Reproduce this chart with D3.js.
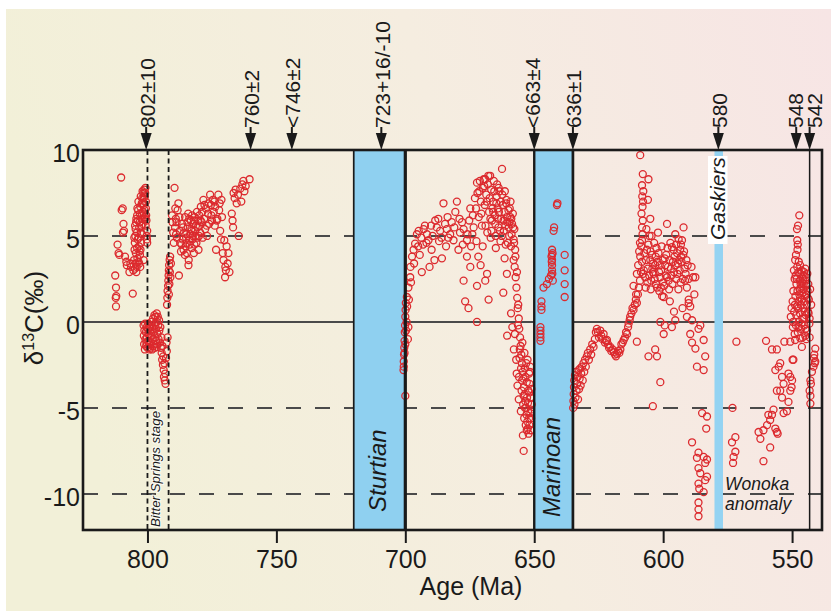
<!DOCTYPE html>
<html><head><meta charset="utf-8">
<script src="https://cdn.jsdelivr.net/npm/d3@7"></script>
<style>html,body{margin:0;padding:0;background:#fff;} svg{display:block;}</style>
</head><body><svg id="c" width="831" height="611"></svg>
<script>
// ---- data (age in Ma, d13C in permil) ----
const ageTicks = [800, 750, 700, 650, 600, 550];
const d13CTicks = [10, 5, 0, -5, -10];
const dateLabels = ["802±10", "760±2", "<746±2", "723+16/-10", "<663±4", "636±1", "580", "548", "542"];
const dateArrowAges = [800.5, 760, 744, 709.3, 650, 635, 578.6, 548.4, 543.2];
const glaciationNames = ["Sturtian", "Marinoan", "Gaskiers"];
const glaciationStart = [720, 650, 580.1];
const glaciationEnd = [700, 635, 576.8];
const bitterSpringsBounds = [800, 791.8];
const precambrianEnd = 543.2;

const preBitterSprings = [[812.5,2.7],[812.2,2.0],[812.1,1.5],[812.3,1.4],[812.2,0.9],[811.6,4.5],[811.2,4.0],[810.9,3.9],[810.2,8.4],[810.0,6.5],[809.6,6.6],[809.3,5.7],[809.1,5.3],[809.5,5.2],[808.7,3.8],[808.2,3.5],[808.0,3.3],[807.0,2.9],[806.6,3.4],[805.7,1.65],[806.4,3.2],[805.5,3.0],[805.2,3.6],[805.0,4.2],[804.9,4.6],[804.7,5.0],[804.6,5.4],[804.4,5.8],[804.5,4.0],[804.2,3.2],[804.0,6.2],[803.8,4.8],[803.6,6.5],[803.5,3.5],[803.3,4.4],[803.2,5.5],[803.0,6.3],[802.9,3.9],[802.8,6.7],[802.6,5.2],[802.5,4.6],[802.3,6.0],[802.2,6.9],[802.0,7.2],[801.9,5.7],[801.8,6.4],[801.6,7.5],[801.5,3.6],[801.4,6.8],[801.2,7.7],[801.0,7.3],[800.9,6.1],[800.8,7.8],[800.6,6.6],[800.5,6.2],[800.4,5.9],[800.3,5.0],[800.2,4.8],[800.1,4.6],[800.1,5.3],[800.6,7.0],[801.0,6.0],[801.3,6.3],[802.1,5.1],[803.4,4.9],[804.1,5.2],[804.8,3.1],[803.9,3.7],[802.7,4.2],[804.3,2.9],[803.7,5.9],[802.4,5.6],[801.7,6.9],[801.1,6.5],[800.7,5.6],[804.6,3.4],[805.1,4.9],[803.1,4.1],[804.8,5.6],[804.3,6.0],[803.9,6.6],[803.5,7.0],[803.0,5.8],[802.6,7.3],[802.2,6.2],[801.9,7.6],[801.4,7.2],[800.9,7.5],[804.0,4.3],[803.2,3.4],[802.8,3.2]];

const bitterSprings = [[801.5,-0.2],[801.4,-0.8],[801.3,-1.3],[801.2,-0.5],[801.0,-1.6],[800.9,-0.1],[800.8,-1.0],[800.6,-0.6],[800.5,-1.4],[800.3,-0.3],[800.2,-0.9],[800.0,-1.5],[799.9,-0.4],[799.7,-1.1],[799.6,-0.7],[799.4,-1.3],[799.3,-0.2],[799.1,-0.9],[799.0,-1.5],[798.8,-0.5],[798.7,-1.2],[798.5,0.0],[798.4,-0.8],[798.2,-1.6],[798.1,-0.3],[797.9,-1.0],[797.8,0.2],[797.6,-0.6],[797.5,-1.3],[797.3,0.4],[797.2,-0.1],[797.0,-0.9],[796.9,0.3],[796.7,-0.4],[796.6,-1.1],[796.4,0.5],[796.4,-1.45],[796.3,0.0],[796.1,-0.7],[796.0,0.3],[795.8,-0.2],[795.7,-1.0],[795.5,0.1],[795.4,-0.5],[795.2,-1.2],[795.0,-0.3],[794.8,-1.5],[794.6,-0.9],[794.5,-1.8],[794.3,-2.2],[794.2,-1.4],[794.0,-2.5],[793.9,-2.0],[793.7,-2.8],[793.6,-3.2],[793.4,-2.4],[793.3,-3.4],[793.1,-3.0],[793.0,-3.6],[792.8,-2.1],[792.6,-1.2],[792.5,-1.7],[792.2,-0.9],[799.8,-0.1],[798.9,-0.3],[798.0,-1.4],[797.1,-1.5],[796.2,-1.3],[800.4,-1.2],[799.2,-1.6]];

const postBitterSprings = [[792.4,1.0],[792.3,1.4],[792.2,1.8],[792.0,2.1],[791.9,2.4],[791.8,2.7],[791.7,3.0],[791.6,3.3],[791.5,2.2],[791.4,3.6],[791.3,2.9],[791.2,3.8],[791.7,1.6],[791.1,2.6],[790.9,3.4],[790.5,6.2],[790.3,5.8],[789.5,7.8],[789.8,4.6],[789.3,5.5],[789.0,6.0],[788.9,5.1],[788.6,4.9],[788.0,6.9],[788.3,6.5],[787.8,2.7],[787.3,4.6],[787.5,5.3],[787.0,4.1],[786.6,5.7],[786.0,4.2],[786.3,4.8],[785.5,3.9],[785.2,4.4],[784.7,4.0],[784.9,5.1],[784.4,5.5],[784.1,3.3],[784.0,3.6],[783.6,4.5],[783.2,5.9],[782.9,5.3],[782.5,4.8],[782.2,5.7],[782.0,4.0],[781.7,6.1],[781.4,5.0],[781.0,4.6],[780.8,6.4],[780.5,5.5],[780.2,4.2],[779.9,6.2],[779.6,5.2],[779.3,6.7],[779.0,5.8],[778.6,4.9],[778.3,7.1],[778.0,6.0],[777.6,5.4],[777.3,6.6],[776.9,5.0],[776.5,6.3],[776.1,5.7],[775.7,7.4],[775.4,6.8],[775.0,5.9],[774.7,7.1],[774.3,6.4],[773.9,5.6],[773.7,6.7],[773.4,4.2],[772.9,6.0],[772.5,7.4],[772.2,6.5],[771.8,5.3],[771.5,4.8],[771.1,6.1],[770.8,4.0],[770.5,3.6],[770.2,4.75],[769.9,2.6],[769.8,3.2],[769.6,3.0],[769.3,4.4],[768.9,3.4],[768.6,4.0],[768.2,2.9],[767.3,6.3],[767.0,5.9],[766.8,5.5],[766.6,7.5],[766.2,7.2],[765.8,7.7],[765.4,6.9],[764.9,7.4],[764.6,5.0],[764.0,7.75],[763.6,7.0],[763.2,8.0],[762.8,8.2],[762.4,7.6],[761.9,7.9],[760.4,8.3],[784.5,5.8],[783.8,6.0],[783.0,5.4],[782.7,6.2],[781.9,5.9],[781.2,5.6],[780.3,5.9],[779.8,5.6],[785.8,5.2],[786.8,4.5],[785.0,4.9],[783.4,5.1],[781.5,5.3],[780.0,5.0],[784.2,6.3],[782.4,5.0],[786.2,5.5],[785.4,6.1],[784.8,4.6],[783.9,4.8],[782.8,4.3],[781.8,4.5],[780.6,4.9],[779.4,5.9],[778.8,6.4],[777.9,6.8],[777.0,5.6],[776.3,6.9],[775.2,6.2],[774.0,7.0],[773.1,5.9],[772.0,6.9],[771.3,7.1],[788.7,5.8],[787.6,6.1],[789.2,6.6],[790.0,5.2]];

const cryogenianInterlude = [[700.7,-2.8],[700.6,-2.3],[700.5,-1.9],[700.4,-1.5],[700.3,-1.1],[700.2,-0.6],[700.1,-0.2],[700.0,0.3],[699.9,0.7],[699.8,1.1],[700.6,-2.6],[700.3,-1.8],[700.0,-1.3],[699.7,-0.5],[699.5,0.0],[699.3,0.9],[700.0,-4.3],[699.0,-1.0],[698.8,-0.3],[698.6,1.3],[699.4,1.45],[698.8,2.0],[698.1,2.6],[698.0,3.2],[697.4,3.8],[696.8,4.2],[696.2,4.55],[695.5,5.1],[695.0,4.4],[694.4,3.9],[693.6,2.9],[693.8,4.9],[692.9,5.4],[692.4,5.6],[691.8,4.6],[691.0,4.75],[690.6,3.2],[690.0,5.6],[689.4,5.0],[688.7,3.6],[688.4,5.9],[687.8,5.5],[687.2,6.0],[686.5,5.3],[686.0,4.9],[685.8,3.7],[685.2,6.9],[684.6,5.7],[683.9,5.4],[683.3,4.9],[682.6,5.1],[682.0,5.8],[681.3,4.75],[680.6,6.4],[680.0,7.0],[679.4,4.2],[678.8,5.2],[678.0,5.8],[677.7,4.5],[677.4,5.4],[677.4,2.4],[676.8,1.2],[676.1,4.75],[676.1,3.8],[675.5,0.8],[675.2,5.9],[674.8,3.2],[674.5,4.4],[674.0,5.1],[673.5,5.5],[673.0,7.2],[672.6,6.6],[672.4,4.7],[672.2,8.1],[672.2,2.1],[672.2,0.0],[672.0,7.5],[671.7,3.8],[671.5,6.1],[671.1,8.2],[670.8,3.3],[670.7,7.0],[670.3,5.6],[670.0,4.4],[669.9,7.8],[669.6,8.3],[669.2,6.8],[669.0,2.4],[669.0,8.3],[668.6,7.4],[668.3,2.8],[668.2,5.2],[667.8,8.5],[667.7,1.3],[667.5,6.4],[667.1,8.5],[666.9,4.9],[666.7,7.7],[666.4,5.9],[666.0,7.0],[665.7,8.2],[665.3,6.2],[665.0,5.0],[664.9,4.3],[664.6,7.3],[664.2,6.6],[663.9,5.5],[663.5,7.6],[663.1,4.7],[662.8,6.0],[662.5,8.9],[662.2,6.8],[662.0,1.7],[661.8,5.3],[661.5,6.4],[661.5,3.7],[661.1,4.5],[660.8,7.1],[660.6,2.8],[660.4,5.8],[660.0,6.5],[659.7,5.0],[659.3,6.1],[659.0,4.4],[658.6,5.7],[658.3,6.3],[658.0,4.8],[658.0,3.6],[657.7,5.4],[657.4,4.2],[670.5,6.3],[668.9,5.6],[667.3,7.2],[666.2,6.6],[665.5,7.6],[664.0,6.0],[663.0,7.0],[661.9,5.9],[660.9,6.9],[659.9,5.5],[659.5,6.6],[658.8,5.1],[671.3,7.6],[669.4,7.9],[668.0,8.0],[664.4,8.0],[663.7,6.4],[662.6,5.0],[661.2,5.6],[660.2,4.6],[659.2,7.0],[666.6,5.3],[665.1,5.7],[663.3,5.3],[673.8,6.2],[674.8,6.6],[675.9,5.1],[679.0,6.0],[683.6,6.1],[681.0,5.5],[684.2,4.4],[686.9,4.7],[689.8,4.2],[691.6,5.1],[693.1,4.5],[694.8,5.3],[696.6,3.4],[697.8,2.3],[668.4,7.0],[667.0,6.0],[665.9,6.4],[664.7,6.9],[663.8,7.8],[662.4,7.4],[661.4,7.6],[660.6,6.1],[659.6,5.8],[658.9,6.0],[658.2,5.5],[657.8,4.6],[657.3,3.8],[656.7,2.9],
[657.6,3.2],[657.2,2.6],[656.9,2.0],[656.6,1.4],[656.4,0.8],[656.0,0.2],[655.8,-0.4],[655.5,-0.9],[655.3,-1.4],[655.0,-1.9],[654.8,-2.4],[654.5,-2.9],[654.2,-3.3],[654.0,-3.8],[653.7,-4.2],[653.5,-4.6],[653.2,-5.0],[653.0,-5.4],[652.7,-5.8],[652.5,-6.2],[652.2,-6.5],[652.0,-3.0],[651.8,-3.6],[651.5,-4.4],[651.3,-5.1],[651.1,-3.9],[651.0,-4.8],[651.6,-2.6],[652.3,-4.0],[652.9,-3.5],[653.6,-2.7],[654.4,-6.6],[654.1,-7.5],[655.2,-5.2],[656.0,-4.5],[656.5,-3.7],[657.0,-2.2],[657.9,-1.6],[658.5,-0.3],[659.0,0.5],[660.5,-0.8],[657.5,-0.7],[656.2,1.0],[655.7,-2.1],[654.6,-1.2],[653.9,-5.6],[652.6,-2.2],[653.3,-6.0],[652.0,-5.6],[651.4,-6.3],[656.8,-3.0],[655.9,-3.2],[654.9,-4.0],[654.3,-4.8],[653.8,-1.8],[653.1,-2.4],[652.8,-4.4],[651.9,-4.1],[651.2,-5.6],[652.4,-5.2],[653.4,-3.2],[651.7,-2.9],[656.3,-0.2],[655.6,-1.6],[655.1,-2.7],[654.7,-3.4],[654.1,-4.3],[653.6,-5.0],[652.4,-4.7],[651.5,-5.3],[651.9,-6.0],[652.9,-6.3]];

const marinoanCap = [[647.6,-0.3],[647.6,-0.5],[647.6,-0.7],[647.6,-0.9],[647.6,-1.1],[647.2,1.2],[647.2,0.9],[647.2,0.7],[646.4,2.0],[645.1,2.2],[644.3,2.5],[643.5,2.7],[643.1,4.2],[643.1,3.9],[643.1,3.6],[643.1,3.3],[643.1,3.0],[643.0,2.8],[643.3,3.8],[642.9,4.0],[642.8,2.4],[643.2,3.5],[642.5,5.3],[642.3,5.5],[641.2,6.8],[641.0,6.9],[638.2,3.9],[638.2,3.0],[638.2,2.2],[638.2,1.45]];

const ediacaran = [[634.9,-5.0],[634.8,-4.6],[634.7,-4.2],[634.6,-3.8],[634.5,-3.4],[634.4,-4.8],[634.2,-3.1],[634.0,-4.4],[633.8,-2.9],[633.6,-4.0],[633.4,-3.6],[633.2,-3.2],[633.0,-4.5],[632.8,-2.8],[632.6,-3.9],[632.4,-3.3],[632.2,-2.7],[632.0,-3.7],[631.8,-3.0],[631.5,-2.6],[631.2,-3.4],[630.9,-2.4],[630.6,-2.9],[630.3,-2.2],[630.0,-2.6],[629.6,-2.0],[629.2,-1.8],[628.8,-2.2],[628.3,-1.6],[627.9,-1.9],[627.5,-1.3],[627.0,-1.45],[626.5,-1.0],[626.1,-0.6],[625.7,-0.4],[625.3,-0.6],[624.9,-0.9],[624.4,-0.5],[624.0,-0.8],[623.5,-1.0],[623.1,-0.7],[622.6,-1.2],[622.2,-1.1],[621.8,-1.05],[621.4,-1.3],[621.0,-1.5],[620.5,-1.45],[620.1,-1.7],[619.6,-1.6],[619.2,-1.75],[618.7,-1.9],[618.3,-2.0],[617.9,-1.85],[617.4,-1.7],[617.0,-1.8],[616.6,-1.6],[616.2,-1.3],[615.7,-1.2],[615.3,-1.05],[614.8,-0.9],[614.4,-0.6],[614.0,-0.7],[613.6,-0.3],[613.4,-0.1],[613.0,0.1],[612.8,0.3],[612.3,0.5],[611.9,0.8],[611.5,0.7],[611.0,1.0],[610.6,1.3],[610.2,1.1],[609.8,1.6],[609.4,2.0],[609.0,2.4],[608.6,2.9],[608.2,3.5],[608.9,3.8],[608.5,4.4],[608.2,4.75],[608.0,5.1],[608.2,5.5],[607.9,5.9],[608.4,6.3],[608.0,6.7],[607.8,7.0],[608.1,7.3],[607.7,7.6],[608.2,7.95],[607.9,8.6],[608.9,9.7],
[611.5,2.1],[610.5,1.6],[610.2,2.8],[609.7,3.3],[609.3,4.1],[609.0,4.6],[607.5,3.0],[607.0,2.6],[606.7,3.6],[606.3,4.2],[606.0,3.1],[605.7,8.3],[605.9,7.1],[605.7,4.5],[605.3,5.0],[605.0,6.0],[605.0,3.6],[604.6,2.4],[604.3,3.9],[604.0,2.9],[603.7,2.8],[603.5,4.6],[603.1,3.3],[602.8,2.2],[602.4,2.0],[602.2,3.5],[601.8,4.0],[601.5,1.8],[601.1,2.6],[600.8,3.0],[600.4,1.5],[600.0,2.3],[599.8,1.45],[599.4,3.7],[599.0,2.7],[598.5,5.7],[598.5,2.6],[598.1,3.2],[597.7,1.9],[597.2,4.6],[596.6,4.35],[596.2,3.5],[595.8,2.9],[595.3,5.1],[595.0,4.5],[594.6,4.0],[594.3,3.4],[594.0,4.8],[593.6,3.0],[593.4,4.2],[593.0,3.8],[592.7,4.75],[592.4,2.5],[592.1,5.5],[591.7,3.1],[591.3,2.8],[590.8,2.0],[590.5,3.3],[590.1,1.3],[589.5,0.9],[588.8,0.1],[588.4,2.6],[587.9,1.6],[587.5,2.6],[589.0,3.2],[606.8,2.0],[605.4,2.7],[604.8,1.9],[603.9,3.4],[602.6,4.3],[601.3,3.3],[600.6,4.4],[599.6,2.1],[598.8,3.9],[597.9,2.4],[597.0,3.1],[596.4,2.2],[595.6,3.8],[594.9,2.5],[594.1,1.9],[593.2,2.3],[592.9,3.5],[591.9,4.1],[591.0,3.6],[590.2,2.5],[607.3,4.0],[606.5,5.4],[604.5,5.0],[602.0,5.2],[600.2,3.6],[603.3,2.5],[602.9,3.8],[601.6,2.9],[600.9,2.0],[599.2,3.3],[598.3,4.3],[597.5,3.6],[596.8,2.7],[596.0,4.2],[595.2,3.3],[594.5,2.8],[593.8,3.6],[593.1,4.5],[592.2,3.9],[591.5,2.4],[606.1,2.3],[604.9,4.1],[604.2,3.1],[607.8,2.8],
[610.2,-1.15],[605.7,-2.0],[603.1,-1.6],[602.4,-2.0],[601.1,-3.5],[604.0,-4.9],[601.1,0.0],[599.8,-0.7],[599.4,-0.2],[595.3,0.1],[590.1,1.1],[590.8,0.3],[589.5,-0.7],[588.8,-1.2],[587.5,-1.55],[586.9,-2.6],[584.3,-2.8],[583.7,-2.0],[584.3,-1.05],[586.3,-0.4],[585.6,-0.2],[595.8,0.6],[597.4,1.2],[592.5,0.8],[596.6,-0.3],
[584.9,-5.3],[583.0,-5.5],[583.3,-6.2],[588.8,-7.0],[586.9,-7.9],[586.3,-7.6],[584.3,-7.85],[583.7,-8.2],[583.0,-8.0],[586.3,-8.5],[585.6,-8.8],[583.7,-9.2],[583.0,-9.0],[586.3,-9.4],[586.0,-9.7],[584.3,-9.9],[586.3,-10.5],[586.3,-10.9],[586.3,-11.3],
[571.6,-1.15],[573.1,-5.0],[572.0,-6.7],[573.3,-7.0],[572.0,-7.55],[572.7,-7.85],[572.9,-8.2],
[561.1,-8.1],[563.0,-6.4],[562.3,-6.8],[561.1,-6.3],[559.7,-6.0],[558.5,-5.7],[557.2,-5.1],[558.5,-7.3],[556.5,-6.2],[555.9,-6.4],[555.6,-6.5],[557.8,-5.4],[559.2,-5.4],[560.1,-1.1],[557.8,-1.6],[555.9,-1.6],[556.5,-2.8],[554.6,-2.4],[555.2,-2.6],[553.9,-3.2],[553.3,-3.6],[554.6,-4.0],[555.9,-4.0],[553.9,-4.4],[551.4,-4.65],[550.7,-4.0],[550.0,-3.4],[550.2,-3.8],[551.4,-3.0],[550.7,-3.2],[549.8,-2.2],[549.5,-2.2],[553.3,-5.3],[552.0,-5.2],[553.0,-1.15],[550.7,-1.15],[548.8,-1.05],[546.8,-0.95],[546.2,-1.45],[544.9,-0.8],
[547.2,6.2],[547.7,5.6],[548.1,5.4],[548.0,4.75],[547.8,4.5],[547.9,4.2],[548.8,3.6],[548.5,3.9],[544.9,3.1],[545.5,2.7],[549.0,2.5],[548.3,2.2],[547.6,2.9],[547.0,2.4],[546.5,2.0],[546.0,1.7],[545.5,2.2],[545.0,1.5],[544.5,2.1],[544.0,1.8],[543.5,1.3],[543.0,1.9],[542.6,1.0],[549.5,1.8],[549.8,1.2],[550.2,0.8],[550.5,0.3],[549.2,0.6],[548.7,1.5],[548.2,0.9],[547.5,1.2],[547.0,0.5],[546.6,1.0],[546.0,0.2],[545.7,0.8],[545.2,-0.2],[544.7,0.4],[544.2,-0.5],[543.8,0.6],[543.3,-0.1],[549.7,-0.3],[549.0,-0.7],[548.5,-0.2],[547.8,-0.6],[547.3,0.0],[546.5,-0.4],[545.9,-0.9],[544.5,-1.0],[548.0,3.2],[547.4,3.5],[546.8,2.8],[546.3,3.0],[545.8,2.5],[547.9,1.8],[546.9,1.4],[545.4,1.2],[544.3,1.0],[549.3,3.0],[548.6,2.7],[546.1,2.3],[544.6,2.6],[543.7,2.2],[547.1,1.9],[545.1,0.6],[548.9,1.0],[548.4,0.4],[547.6,0.8],[547.2,1.6],[546.7,2.2],[546.2,1.3],[545.6,1.9],[545.0,2.4],[544.4,1.6],[543.9,1.4],[546.9,3.3],[545.3,2.9],[544.1,2.8],[548.2,2.5],[549.6,0.0],[547.5,-0.3],[546.4,-0.1],[545.3,0.2],[544.8,-0.4],
[543.6,0.5],[543.2,0.2],[543.2,-0.9],[541.0,-1.55],[541.4,-1.9],[541.0,-2.3],[541.7,-2.6],[542.3,-2.9],[542.9,-3.4],[542.7,-3.6],[543.2,-4.0],[542.9,-4.3],[542.9,-4.75],[541.5,-2.1],[541.2,-2.4]];

const allPoints = [].concat(preBitterSprings, bitterSprings, postBitterSprings, cryogenianInterlude, marinoanCap, ediacaran);

// ---- drawing ----
const W = 831, H = 611;
const FONT = "'Liberation Sans', Arial, Helvetica, sans-serif";
const INK = "#1a1a1a";
const svg = d3.select("#c");
const defs = svg.append("defs");
const grad = defs.append("linearGradient").attr("id", "bg")
  .attr("x1", "0").attr("y1", "0.2").attr("x2", "1").attr("y2", "0");
grad.append("stop").attr("offset", "0").attr("stop-color", "#f2f0d8");
grad.append("stop").attr("offset", "0.5").attr("stop-color", "#f5ede0");
grad.append("stop").attr("offset", "1").attr("stop-color", "#f7e5e5");
svg.append("rect").attr("x", 6).attr("y", 9).attr("width", W - 6).attr("height", H - 9).attr("fill", "url(#bg)");

const x = d3.scaleLinear().domain([825, 538.4]).range([83, 822]);
const y = d3.scaleLinear().domain([-12.1, 10]).range([530, 150]);
const [x0, x1] = x.range();
const [yB, yT] = y.range();

// gridlines
svg.append("g").selectAll("line").data(d13CTicks.filter(d => d !== 10)).join("line")
  .attr("x1", x0).attr("x2", x1).attr("y1", d => y(d)).attr("y2", d => y(d))
  .attr("stroke", "#4a4a4a").attr("stroke-width", 2)
  .attr("stroke-dasharray", d => d === 0 ? null : "15,14");

// glaciation bands
const gl = svg.append("g");
glaciationNames.forEach((n, i) => {
  const xa = x(glaciationStart[i]), xb = x(glaciationEnd[i]);
  gl.append("rect").attr("x", xa).attr("y", yT).attr("width", xb - xa).attr("height", yB - yT)
    .attr("fill", n === "Gaskiers" ? "#94d3f2" : "#8fd0f0");
});

// data points
svg.append("g").selectAll("circle").data(allPoints).join("circle")
  .attr("cx", d => x(d[0])).attr("cy", d => y(d[1])).attr("r", 3.5)
  .attr("fill", "none").attr("stroke", "#dc2a2e").attr("stroke-width", 1.3);

// band borders
const borderW = {Sturtian: [1.7, 3.2], Marinoan: [2.4, 2.7]};
glaciationNames.forEach((n, i) => {
  if (!borderW[n]) return;
  [glaciationStart[i], glaciationEnd[i]].forEach((a, k) => {
    svg.append("line").attr("x1", x(a)).attr("x2", x(a)).attr("y1", yT).attr("y2", yB)
      .attr("stroke", INK).attr("stroke-width", borderW[n][k]);
  });
});

// Bitter Springs dashed lines
bitterSpringsBounds.forEach(a => {
  svg.append("line").attr("x1", x(a)).attr("x2", x(a)).attr("y1", yT).attr("y2", yB)
    .attr("stroke", INK).attr("stroke-width", 1.8).attr("stroke-dasharray", "5,3.5");
});
// end-Precambrian line
svg.append("line").attr("x1", x(precambrianEnd)).attr("x2", x(precambrianEnd)).attr("y1", yT).attr("y2", yB)
  .attr("stroke", INK).attr("stroke-width", 1.5);

// frame
svg.append("rect").attr("x", x0).attr("y", yT).attr("width", x1 - x0).attr("height", yB - yT)
  .attr("fill", "none").attr("stroke", INK).attr("stroke-width", 2.6);

// x axis
const xAxis = svg.append("g").attr("transform", `translate(0,${yB})`)
  .call(d3.axisBottom(x).tickValues(ageTicks).tickSize(13).tickPadding(7.5).tickFormat(d => String(d)));
xAxis.select(".domain").remove();
xAxis.selectAll(".tick line").attr("stroke", INK).attr("stroke-width", 2);
xAxis.selectAll(".tick text").attr("fill", INK).style("font-family", FONT).style("font-size", "25px");

// y axis
const yAxis = svg.append("g").attr("transform", `translate(${x0},0)`)
  .call(d3.axisLeft(y).tickValues(d13CTicks).tickSize(0).tickPadding(3).tickFormat(d => String(d)));
yAxis.select(".domain").remove();
yAxis.selectAll(".tick text").attr("fill", INK).attr("dy", "0.45em").style("font-family", FONT).style("font-size", "25px");

// axis titles
svg.append("text").attr("x", 471).attr("y", 595).attr("text-anchor", "middle")
  .style("font-family", FONT).style("font-size", "25px").attr("fill", INK).text("Age (Ma)");
const yt = svg.append("text").attr("transform", "translate(43,318) rotate(-90)").attr("text-anchor", "middle")
  .style("font-family", FONT).style("font-size", "26px").attr("fill", INK);
yt.append("tspan").text("δ");
yt.append("tspan").attr("dy", -9).style("font-size", "16px").text("13");
yt.append("tspan").attr("dy", 9).text("C(‰)");

// date arrows
const labelShift = {"<663±4": -2.5, "548": -2, "542": 3.5};
dateLabels.forEach((lab, i) => {
  const ax = x(dateArrowAges[i]);
  const g = svg.append("g");
  g.append("line").attr("x1", ax).attr("x2", ax).attr("y1", 127).attr("y2", 138).attr("stroke", INK).attr("stroke-width", 2);
  g.append("path").attr("d", `M${ax - 5.5},133 L${ax + 5.5},133 L${ax},150 Z`).attr("fill", INK);
  const tx = ax + 8.5 + (labelShift[lab] || 0);
  g.append("text").attr("transform", `translate(${tx},128) rotate(-90)`).attr("text-anchor", "start")
    .style("font-family", FONT).style("font-size", "21px").attr("fill", INK).text(lab);
});

// band labels
function vlabel(txt, bx, by, size) {
  return svg.append("text").attr("transform", `translate(${bx},${by}) rotate(-90)`).attr("text-anchor", "start")
    .style("font-family", FONT).style("font-size", size + "px").style("font-style", "italic").attr("fill", INK).text(txt);
}
vlabel("Sturtian", 386, 512, 24);
vlabel("Marinoan", 560, 517, 24);
svg.append("rect").attr("x", 708).attr("y", 156).attr("width", 19.5).attr("height", 88).attr("fill", "#ffffff");
vlabel("Gaskiers", 725, 240, 21);
vlabel("Bitter Springs stage", 160, 527, 13.3)
  .attr("stroke", "#ffffff").attr("stroke-width", 2.2).attr("stroke-opacity", 0.7).style("paint-order", "stroke");

svg.append("text").attr("x", 725).attr("y", 490).style("font-family", FONT).style("font-size", "17.5px")
  .style("font-style", "italic").attr("fill", INK).text("Wonoka");
svg.append("text").attr("x", 725).attr("y", 510).style("font-family", FONT).style("font-size", "17.5px")
  .style("font-style", "italic").attr("fill", INK).text("anomaly");
</script></body></html>
